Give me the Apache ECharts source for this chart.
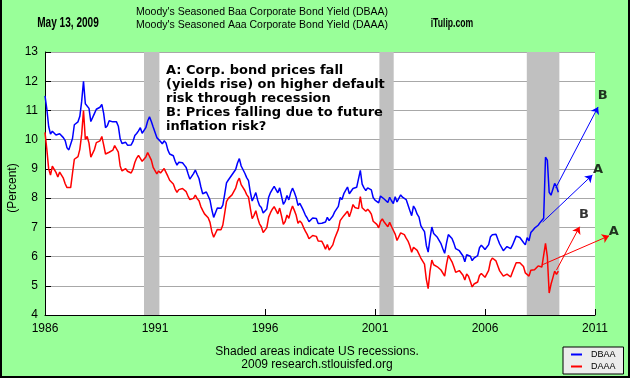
<!DOCTYPE html>
<html><head><meta charset="utf-8">
<script src="https://cdn.jsdelivr.net/npm/echarts@6/dist/echarts.min.js"></script>
<style>html,body{margin:0;padding:0;background:#99ff99}#c{width:630px;height:378px}</style>
</head><body><div id="c"></div>
<script>
// Monthly values starting Jan 1986
const startYear = 1986;
const baa = [
11.50,11.05,10.45,10.19,10.29,10.34,10.16,10.18,10.20,10.24,10.07,9.97,
9.72,9.65,9.61,10.04,10.51,10.52,10.61,10.80,11.31,12.00,11.23,11.29,
11.07,10.62,10.57,10.90,11.04,11.00,11.11,11.21,10.90,10.41,10.48,10.65,
10.65,10.61,10.67,10.61,10.46,10.03,9.87,9.88,9.91,9.81,9.81,9.82,
9.94,10.14,10.21,10.30,10.41,10.22,10.20,10.41,10.64,10.78,10.62,10.43,
10.45,10.07,10.09,9.94,9.86,9.96,9.89,9.65,9.51,9.49,9.45,9.26,
9.13,9.23,9.25,9.21,9.13,9.05,8.84,8.65,8.62,8.84,8.96,8.81,
8.67,8.39,8.15,8.14,8.21,8.07,7.93,7.60,7.34,7.31,7.66,7.69,
7.65,7.76,8.13,8.52,8.62,8.65,8.80,8.74,8.98,9.20,9.35,9.10,
9.08,8.85,8.70,8.60,8.20,7.90,8.04,8.19,7.93,7.75,7.68,7.49,
7.47,7.63,8.03,8.19,8.30,8.40,8.35,8.18,8.35,8.07,7.79,7.89,
8.09,7.94,8.18,8.34,8.20,8.02,7.75,7.82,7.70,7.57,7.42,7.32,
7.19,7.25,7.32,7.33,7.30,7.13,7.15,7.14,7.09,7.18,7.34,7.23,
7.29,7.39,7.53,7.48,7.72,8.02,7.95,8.15,8.20,8.38,8.15,8.19,
8.33,8.29,8.37,8.40,8.95,8.48,8.35,8.26,8.35,8.34,8.28,8.02,
7.93,7.87,7.84,8.07,8.07,7.97,7.97,7.85,8.03,7.91,7.81,8.05,
7.87,7.89,8.11,8.03,8.09,7.95,7.90,7.58,7.40,7.73,7.62,7.45,
7.35,7.06,6.95,6.85,6.38,6.15,6.62,7.01,6.79,6.73,6.66,6.60,
6.44,6.27,6.11,6.46,6.75,6.78,6.62,6.46,6.27,6.21,6.20,6.15,
6.02,5.82,6.06,6.05,6.01,5.86,5.95,5.96,6.03,6.30,6.39,6.32,
6.24,6.27,6.41,6.68,6.75,6.80,6.76,6.59,6.43,6.42,6.20,6.22,
6.34,6.28,6.27,6.39,6.39,6.70,6.65,6.65,6.59,6.48,6.40,6.65,
6.54,6.82,6.89,6.97,6.93,7.07,7.16,7.15,7.31,9.40,9.30,8.20,
8.10,8.10,8.50,8.40,8.20
];
const aaa = [
10.25,9.67,9.00,8.79,9.09,9.13,8.88,8.72,8.89,8.86,8.68,8.49,
8.36,8.38,8.36,8.85,9.33,9.32,9.42,9.67,10.18,11.00,10.01,10.11,
9.88,9.40,9.39,9.67,9.90,9.86,9.96,10.11,9.82,9.51,9.45,9.57,
9.62,9.64,9.80,9.79,9.57,9.10,8.93,8.96,9.01,8.92,8.89,8.86,
8.99,9.22,9.37,9.46,9.47,9.26,9.24,9.41,9.56,9.53,9.30,9.05,
9.04,8.83,8.93,8.86,8.86,9.01,9.00,8.75,8.61,8.55,8.48,8.31,
8.20,8.29,8.35,8.33,8.28,8.22,8.07,7.95,7.92,7.99,8.10,7.98,
7.91,7.71,7.58,7.46,7.43,7.33,7.17,6.85,6.66,6.67,6.93,6.93,
6.92,7.08,7.48,7.88,7.99,7.97,8.11,8.07,8.34,8.57,8.68,8.46,
8.46,8.26,8.12,8.03,7.65,7.30,7.41,7.57,7.32,7.12,7.02,6.82,
6.81,6.99,7.35,7.50,7.62,7.71,7.65,7.46,7.66,7.39,7.10,7.20,
7.42,7.31,7.55,7.73,7.58,7.41,7.14,7.22,7.15,7.00,6.87,6.76,
6.61,6.67,6.72,6.69,6.69,6.53,6.55,6.52,6.40,6.25,6.41,6.22,
6.24,6.40,6.62,6.64,6.93,7.23,7.19,7.40,7.39,7.55,7.36,7.55,
7.78,7.68,7.68,7.64,8.05,7.67,7.65,7.55,7.62,7.55,7.45,7.21,
7.15,7.10,6.98,7.20,7.29,7.18,7.13,7.02,7.17,7.03,6.97,6.77,
6.55,6.51,6.81,6.76,6.75,6.63,6.53,6.37,6.15,6.32,6.31,6.21,
6.17,5.95,5.89,5.74,5.22,4.90,5.49,5.88,5.72,5.70,5.65,5.62,
5.54,5.50,5.33,5.73,6.04,6.01,5.82,5.65,5.46,5.47,5.52,5.47,
5.36,5.20,5.40,5.33,5.15,4.96,5.06,5.09,5.13,5.35,5.42,5.37,
5.29,5.35,5.53,5.84,5.95,5.89,5.85,5.68,5.51,5.51,5.33,5.32,
5.40,5.39,5.30,5.47,5.47,5.79,5.73,5.79,5.74,5.66,5.44,5.49,
5.33,5.53,5.51,5.55,5.57,5.68,5.67,5.64,5.65,6.45,6.00,4.75,
5.05,5.27,5.50,5.39,5.50
];
const recessions = [[1990.5, 1991.2], [2001.2, 2001.85], [2007.9, 2009.38]];
const xMin = 1986, xMax = 2011, xStep = 5;
const yMin = 4, yMax = 13, yStep = 1;
// Annotation arrows [start, end] in data units, and their letter labels
const baaArrows = [[[2009.21, 8.34], [2011.14, 11.12]], [[2008.62, 7.18], [2010.88, 8.79]]];
const aaaArrows = [[[2009.25, 5.54], [2010.30, 7.02]], [[2008.58, 5.71], [2011.64, 6.71]]];
const arrowLabels = [['B', 2011.35, 11.50], ['A', 2011.14, 8.98], ['B', 2010.50, 7.42], ['A', 2011.85, 6.85]];
const titleLines = ["Moody's Seasoned Baa Corporate Bond Yield (DBAA)", "Moody's Seasoned Aaa Corporate Bond Yield (DAAA)"];
const noteText = ['A: Corp. bond prices fall', '(yields rise) on higher default', 'risk through recession', 'B: Prices falling due to future', 'inflation risk?'];
const footerLines = ['Shaded areas indicate US recessions.', '2009 research.stlouisfed.org'];
const yName = '(Percent)';

const toXY = arr => arr.map((v, i) => [startYear + i / 12, v]);
const F = '"Liberation Sans", Arial, sans-serif';
const chart = echarts.init(document.getElementById('c'), null, {renderer: 'canvas'});
chart.setOption({
  animation: false,
  backgroundColor: '#99ff99',
  grid: {left: 45, right: 35, top: 52, bottom: 63, show: true, backgroundColor: '#ffffff', borderWidth: 0,
    containLabel: false, outerBoundsMode: 'none'},
  xAxis: {
    type: 'value', min: xMin, max: xMax, interval: xStep,
    axisLine: {show: true, lineStyle: {color: '#000', width: 1}},
    axisTick: {show: true, inside: true, length: 6, lineStyle: {color: '#000'}},
    axisLabel: {color: '#000', fontFamily: F, fontSize: 12, margin: 8, formatter: v => String(v)},
    splitLine: {show: false}
  },
  yAxis: {
    type: 'value', min: yMin, max: yMax, interval: yStep,
    axisLine: {show: true, lineStyle: {color: '#000', width: 1}},
    axisTick: {show: true, inside: true, length: 6, lineStyle: {color: '#000'}},
    axisLabel: {color: '#000', fontFamily: F, fontSize: 12, margin: 7},
    splitLine: {show: true, lineStyle: {color: '#a8a8a8', width: 1}}
  },
  legend: {
    data: ['DBAA', 'DAAA'], orient: 'vertical', left: 563, top: 347,
    backgroundColor: '#ececec', borderColor: '#000', borderWidth: 1,
    padding: [3, 8, 3, 8], itemWidth: 11, itemHeight: 2, itemGap: 3, icon: 'rect',
    textStyle: {fontFamily: F, fontSize: 9, color: '#000', padding: [0, 0, 0, 4]}
  },
  series: [
    {name: 'DBAA', type: 'line', data: toXY(baa), showSymbol: false, symbol: 'none',
     lineStyle: {color: '#0000ff', width: 1.5}, itemStyle: {color: '#0000ff'}, z: 3,
     markArea: {silent: true, itemStyle: {color: '#c0c0c0'},
       data: recessions.map(r => [{xAxis: r[0]}, {xAxis: r[1]}])}},
    {name: 'DAAA', type: 'line', data: toXY(aaa), showSymbol: false, symbol: 'none',
     lineStyle: {color: '#ff0000', width: 1.5}, itemStyle: {color: '#ff0000'}, z: 3},
    {type: 'lines', coordinateSystem: 'cartesian2d', clip: false, z: 4,
     symbol: ['none', 'arrow'], symbolSize: 7,
     lineStyle: {color: '#0000ff', width: 1, opacity: 1},
     data: baaArrows.map(a => ({coords: a}))},
    {type: 'lines', coordinateSystem: 'cartesian2d', clip: false, z: 4,
     symbol: ['none', 'arrow'], symbolSize: 7,
     lineStyle: {color: '#ff0000', width: 1, opacity: 1},
     data: aaaArrows.map(a => ({coords: a}))},
    {type: 'scatter', clip: false, symbolSize: 0, z: 5, silent: true,
     data: arrowLabels.map(l => ({name: l[0], value: [l[1], l[2]]})),
     label: {show: true, position: 'inside', formatter: p => p.name, color: '#000',
       fontFamily: '"DejaVu Sans", sans-serif', fontWeight: 'bold', fontSize: 13}}
  ],
  graphic: [
    {type: 'rect', z: 10, shape: {x: 160, y: 55, width: 218, height: 80}, style: {fill: '#ffffff'}},
    {type: 'text', z: 11, style: {x: 166, y: 64, text: noteText.join('\n'), lineHeight: 14,
      font: 'bold 13px "DejaVu Sans", sans-serif', fill: '#000', align: 'left', verticalAlign: 'top'}},
    {type: 'text', z: 11, x: 13, y: 188, rotation: Math.PI / 2,
     style: {x: 0, y: 0, text: yName, font: '12px ' + F, fill: '#000', align: 'center', verticalAlign: 'middle'}},
    {type: 'text', z: 11, style: {x: 262, y: 12, text: titleLines[0], font: '10.5px ' + F, fill: '#000', align: 'center', verticalAlign: 'middle'}},
    {type: 'text', z: 11, style: {x: 262, y: 25, text: titleLines[1], font: '10.5px ' + F, fill: '#000', align: 'center', verticalAlign: 'middle'}},
    {type: 'text', z: 11, x: 68, y: 23, scaleX: 0.72, scaleY: 1,
     style: {x: 0, y: 0, text: 'May 13, 2009', font: 'bold 14px ' + F, fill: '#000', align: 'center', verticalAlign: 'middle'}},
    {type: 'text', z: 11, x: 452, y: 23, scaleX: 0.64, scaleY: 1,
     style: {x: 0, y: 0, text: 'iTulip.com', font: 'bold 13.5px ' + F, fill: '#000', align: 'center', verticalAlign: 'middle'}},
    {type: 'text', z: 11, style: {x: 317, y: 352, text: footerLines[0], font: '12px ' + F, fill: '#000', align: 'center', verticalAlign: 'middle'}},
    {type: 'text', z: 11, style: {x: 317, y: 365, text: footerLines[1], font: '12px ' + F, fill: '#000', align: 'center', verticalAlign: 'middle'}},
    {type: 'polyline', z: 12, shape: {points: [[1, 0], [1, 377], [629, 377], [629, 0]]}, style: {stroke: '#000', lineWidth: 2, fill: null}}
  ]
});
</script>
</body></html>
